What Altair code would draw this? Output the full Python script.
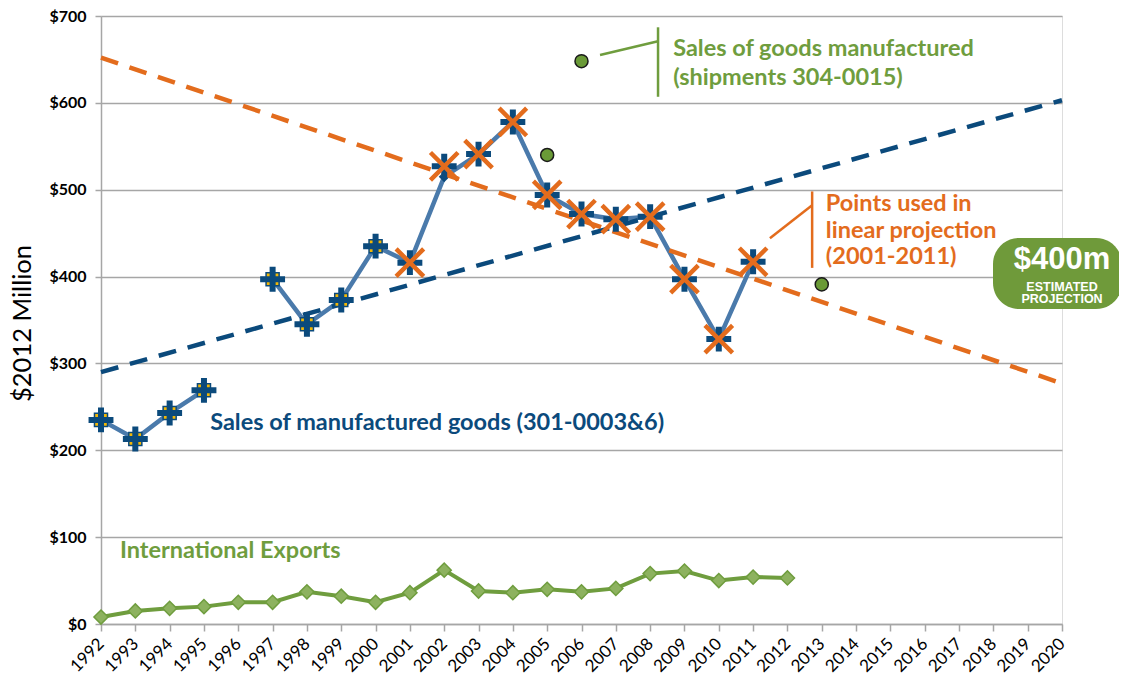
import altair as alt
import pandas as pd

# ---------------- data ----------------
main_years = [1992, 1993, 1994, 1995, 1997, 1998, 1999, 2000, 2001, 2002,
              2003, 2004, 2005, 2006, 2007, 2008, 2009, 2010, 2011]
main_line = [235, 213, 243, 269, 397, 345, 373, 435, 416, 515,
             541, 578, 494, 472, 466, 469, 397, 328, 417]
main_marker = [235, 213, 243, 269, 397, 345, 373, 435, 416, 527,
               541, 578, 494, 472, 466, 469, 397, 328, 417]
proj_start, proj_end = 2001, 2011

export_years = list(range(1992, 2013))
exports = [8, 15, 18, 20, 25, 25, 37, 32, 25, 36, 62, 38, 36, 40, 37, 41, 58, 61, 50, 54, 53]

ship_years = [2005, 2006, 2013]
shipments = [540, 648, 391]

trend_years = [1992, 2020]
trend_down = [652, 277]
trend_up = [290, 603]

year_ticks = list(range(1992, 2021))
value_ticks = [0, 100, 200, 300, 400, 500, 600, 700]

# ---------------- tables ----------------
main_df = pd.DataFrame({"year": main_years, "line": main_line, "value": main_marker})
main_df["seg"] = [1 if y < 1996 else 2 for y in main_years]
early_df = main_df[main_df["year"] < proj_start]
proj_df = main_df[(main_df["year"] >= proj_start) & (main_df["year"] <= proj_end)]
exp_df = pd.DataFrame({"year": export_years, "value": exports})
ship_df = pd.DataFrame({"year": ship_years, "value": shipments})
trend_df = pd.DataFrame({"year": trend_years + trend_years,
                         "value": trend_down + trend_up,
                         "kind": ["down", "down", "up", "up"]})

BLUE_LINE = "#4a7aab"
NAVY = "#0b4a7c"
ORANGE = "#e36c1d"
GREEN = "#6f9d3e"
GREEN_FILL = "#8db25f"
YELLOW = "#f2b705"
GRID = "#a6a6a6"
FONT = "Lato"

xscale = alt.Scale(domain=[1992, 2020], nice=False, zero=False)
yscale = alt.Scale(domain=[0, 700], nice=False, zero=True)

x_axis = alt.Axis(values=year_ticks, format="d", title=None, grid=False,
                  labelOverlap=False, labelAngle=-45, labelAlign="right",
                  labelBaseline="middle", labelFontSize=17, labelFont=FONT,
                  labelColor="#000", labelPadding=10, labelBound=False, labelFlush=False,
                  tickSize=7, tickColor=GRID, tickWidth=1.5, domainColor=GRID,
                  domainWidth=1.5)
y_axis = alt.Axis(values=value_ticks, labelExpr="'$' + datum.value", title="$2012 Million",
                  labelFont=FONT, labelFontWeight="bold", labelFontSize=16,
                  labelColor="#000", tickSize=6, tickColor=GRID, tickWidth=1.5,
                  domainColor=GRID, domainWidth=1.5, gridColor=GRID, gridWidth=1.5,
                  labelPadding=9, titleFont=FONT, titleFontWeight="normal", titleFontSize=25.5,
                  titleColor="#000", titleAngle=270, titleX=-79, titleY=307,
                  titleBaseline="middle", titleAlign="center", labelOverlap=False)


def X():
    return alt.X("year:Q", scale=xscale, axis=x_axis, title=None)


def Y(field="value"):
    return alt.Y(f"{field}:Q", scale=yscale, axis=y_axis, title="$2012 Million")


# exports
exp_line = alt.Chart(exp_df).mark_line(color=GREEN, strokeWidth=4).encode(x=X(), y=Y())
exp_pts = alt.Chart(exp_df).mark_point(shape="diamond", filled=True, size=200,
                                       fill=GREEN_FILL, stroke=GREEN, strokeWidth=1.5,
                                       opacity=1).encode(x=X(), y=Y())

# main line
main_ln = alt.Chart(main_df).mark_line(color=BLUE_LINE, strokeWidth=4.5).encode(
    x=X(), y=Y("line"), detail="seg:N")
main_dia = alt.Chart(main_df).mark_point(shape="diamond", filled=True, size=120,
                                         color=NAVY, opacity=1).encode(x=X(), y=Y("line"))

# trend lines
trend = alt.Chart(trend_df).mark_line(strokeWidth=4.5, strokeDash=[18, 12]).encode(
    x=X(), y=Y(), detail="kind:N",
    color=alt.Color("kind:N", scale=alt.Scale(domain=["down", "up"], range=[ORANGE, NAVY]),
                    legend=None))

PLUS = "M0,-1L0,1M-1,0L1,0"
XSHAPE = "M-1,-1L1,1M-1,1L1,-1"

early_sq = alt.Chart(early_df).mark_point(shape="square", filled=True, size=170,
                                          fill=YELLOW, stroke=NAVY, strokeWidth=1.5,
                                          opacity=1).encode(x=X(), y=Y())
plus_all = alt.Chart(main_df).mark_point(shape=PLUS, filled=False, size=620,
                                         stroke=NAVY, strokeWidth=6, opacity=1).encode(
    x=X(), y=Y())
x_marks = alt.Chart(proj_df).mark_point(shape=XSHAPE, filled=False, size=760,
                                        stroke=ORANGE, strokeWidth=4.5, opacity=1).encode(
    x=X(), y=Y())

ship_pts = alt.Chart(ship_df).mark_point(shape="circle", filled=True, size=170,
                                         fill="#6a9a37", stroke="#1a1a1a", strokeWidth=1.5,
                                         opacity=1).encode(x=X(), y=Y())


# annotations (placed in data coordinates, sharing the same scales/axes)
def XD(v):
    return alt.XDatum(v, scale=xscale, axis=x_axis)


def YD(v):
    return alt.YDatum(v, scale=yscale, axis=y_axis)


def txt(x, y, s, color, size=23.5, weight="bold", align="left", font=FONT):
    return alt.Chart().mark_text(text=s, color=color, fontSize=size, fontWeight=weight,
                                 font=font, align=align, baseline="middle").encode(
        x=XD(x), y=YD(y))


def seg(x1, y1, x2, y2, color, w=2.5):
    return alt.Chart().mark_rule(color=color, strokeWidth=w).encode(
        x=XD(x1), y=YD(y1), x2=alt.X2Datum(x2), y2=alt.Y2Datum(y2))


ann = [
    txt(1995.18, 231, "Sales of manufactured goods (301-0003&6)", NAVY),
    txt(1992.55, 84, "International Exports", GREEN),
    txt(2008.67, 662, "Sales of goods manufactured", GREEN),
    txt(2008.67, 629, "(shipments 304-0015)", GREEN),
    txt(2013.12, 484, "Points used in", ORANGE),
    txt(2013.12, 453, "linear projection", ORANGE),
    txt(2013.12, 422, "(2001-2011)", ORANGE),
    seg(2008.23, 687, 2008.23, 607, GREEN),
    seg(2006.54, 655, 2008.23, 671, GREEN),
    seg(2012.72, 498, 2012.72, 410, ORANGE),
    seg(2011.49, 444, 2012.72, 482, ORANGE),
]

badge = alt.Chart().mark_rect(color="#6f9a3a", cornerRadius=26).encode(
    x=alt.value(892), x2=alt.value(1021), y=alt.value(222), y2=alt.value(293))
badge_t1 = alt.Chart().mark_text(text="$400m", color="white", fontSize=31, fontWeight="bold",
                                 font="Liberation Sans", align="center", baseline="middle").encode(
    x=alt.value(961), y=alt.value(244))
badge_t2 = alt.Chart().mark_text(text="ESTIMATED", color="white", fontSize=12.5, fontWeight="bold",
                                 font="Liberation Sans", align="center", baseline="middle").encode(
    x=alt.value(961), y=alt.value(271))
badge_t3 = alt.Chart().mark_text(text="PROJECTION", color="white", fontSize=12.5, fontWeight="bold",
                                 font="Liberation Sans", align="center", baseline="middle").encode(
    x=alt.value(961), y=alt.value(283))

chart = alt.layer(
    exp_line, exp_pts, main_ln, main_dia, trend, early_sq, plus_all, x_marks, ship_pts,
    *ann, badge, badge_t1, badge_t2, badge_t3
).properties(
    width=961, height=608,
    autosize=alt.AutoSizeParams(type="none"),
    padding={"left": 93, "top": 8, "right": 57, "bottom": 52},
).configure_view(stroke=None).configure(background="white")

chart.save("out.html", embed_options={"renderer": "svg", "actions": False})
